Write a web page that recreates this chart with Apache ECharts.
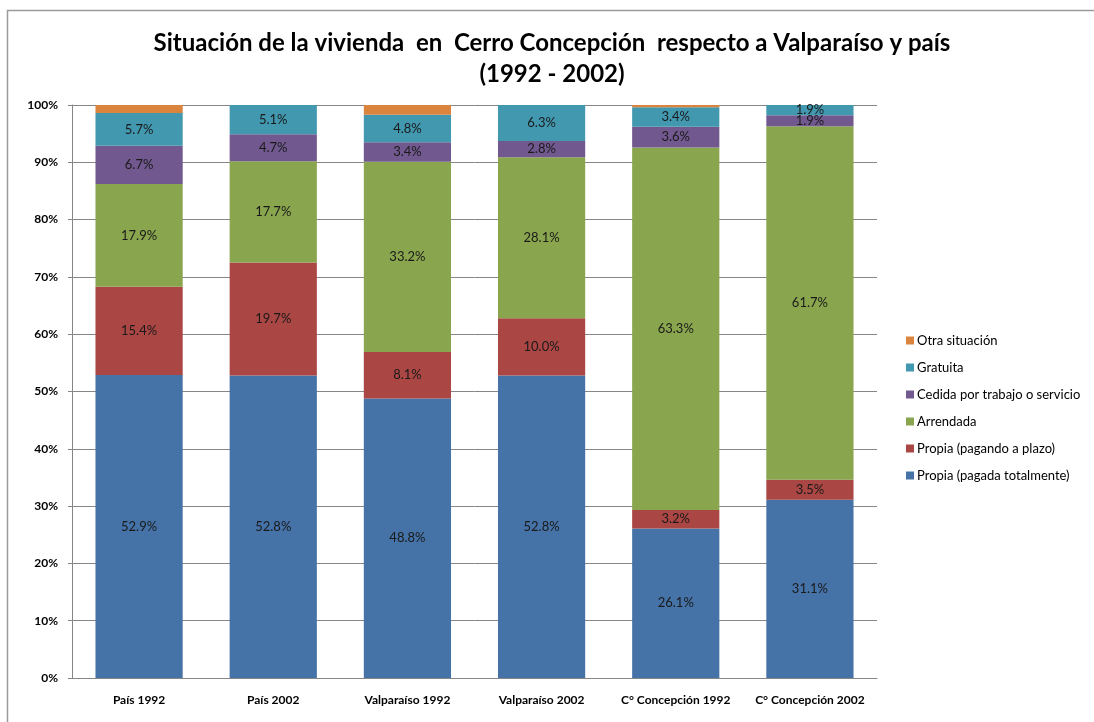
<!DOCTYPE html>
<html><head><meta charset="utf-8">
<script src="https://cdn.jsdelivr.net/npm/echarts@6/dist/echarts.min.js"></script>
<style>html,body{margin:0;padding:0;background:#fff}#c{width:1094px;height:722px}</style>
</head><body><div id="c"></div>
<script>
const categories = ['País 1992','País 2002','Valparaíso 1992','Valparaíso 2002','C° Concepción 1992','C° Concepción 2002'];
const propiaPagada = [52.9, 52.8, 48.8, 52.8, 26.1, 31.1];
const propiaPagando = [15.4, 19.7, 8.1, 10.0, 3.2, 3.5];
const arrendada = [17.9, 17.7, 33.2, 28.1, 63.3, 61.7];
const cedida = [6.7, 4.7, 3.4, 2.8, 3.6, 1.9];
const gratuita = [5.7, 5.1, 4.8, 6.3, 3.4, 1.9];
const otra = [1.4, 0.0, 1.7, 0.0, 0.4, 0.0];
const yTicks = ['0%','10%','20%','30%','40%','50%','60%','70%','80%','90%','100%'];

const font = 'Lato, "Open Sans", sans-serif';
function s(name, data, color, showLabel) {
  return {
    name, type: 'bar', stack: 'total', data, barWidth: '65%',
    itemStyle: { color },
    label: { show: showLabel, position: 'inside', color: '#1a1a1a', fontFamily: font, fontSize: 13,
      formatter: p => p.value.toFixed(1) + '%' }
  };
}
const chart = echarts.init(document.getElementById('c'));
chart.setOption({
  animation: false,
  graphic: [
    { type: 'polyline', shape: { points: [[7.5, 722], [7.5, 10.5], [1094, 10.5]] },
      style: { stroke: '#9a9a9a', lineWidth: 1.5, fill: null }, silent: true }
  ],
  title: {
    text: 'Situación de la vivienda  en  Cerro Concepción  respecto a Valparaíso y país\n(1992 - 2002)',
    left: 547, textAlign: 'center', top: 23,
    textStyle: { fontFamily: font, fontWeight: 'bold', fontSize: 24, lineHeight: 31, color: '#000' }
  },
  legend: {
    orient: 'vertical', left: 901, top: 329, itemWidth: 8, itemHeight: 8, itemGap: 14,
    icon: 'rect',
    data: ['Otra situación','Gratuita','Cedida por trabajo o servicio','Arrendada','Propia (pagando a plazo)','Propia (pagada totalmente)'],
    textStyle: { fontFamily: font, fontSize: 13, color: '#000', padding: [0,0,0,-2] }
  },
  grid: { left: 72, right: 217, top: 105, bottom: 44 },
  xAxis: {
    type: 'category', data: categories,
    axisLine: { lineStyle: { color: '#868686' } },
    axisTick: { show: false },
    axisLabel: { fontFamily: font, fontWeight: 'bold', fontSize: 12, color: '#000', margin: 16, interval: 0 }
  },
  yAxis: {
    type: 'value', min: 0, max: 100, interval: 10,
    axisLine: { show: true, lineStyle: { color: '#868686' } },
    axisTick: { show: true, length: 4, lineStyle: { color: '#868686' } },
    splitLine: { lineStyle: { color: '#868686' } },
    axisLabel: { fontFamily: font, fontWeight: 'bold', fontSize: 12, color: '#000', margin: 14,
      formatter: v => yTicks[Math.round(v / 10)] }
  },
  series: [
    s('Propia (pagada totalmente)', propiaPagada, '#4572A7', true),
    s('Propia (pagando a plazo)', propiaPagando, '#AA4643', true),
    s('Arrendada', arrendada, '#89A54E', true),
    s('Cedida por trabajo o servicio', cedida, '#71588F', true),
    s('Gratuita', gratuita, '#4198AF', true),
    s('Otra situación', otra, '#DB843D', false)
  ]
});
</script></body></html>
